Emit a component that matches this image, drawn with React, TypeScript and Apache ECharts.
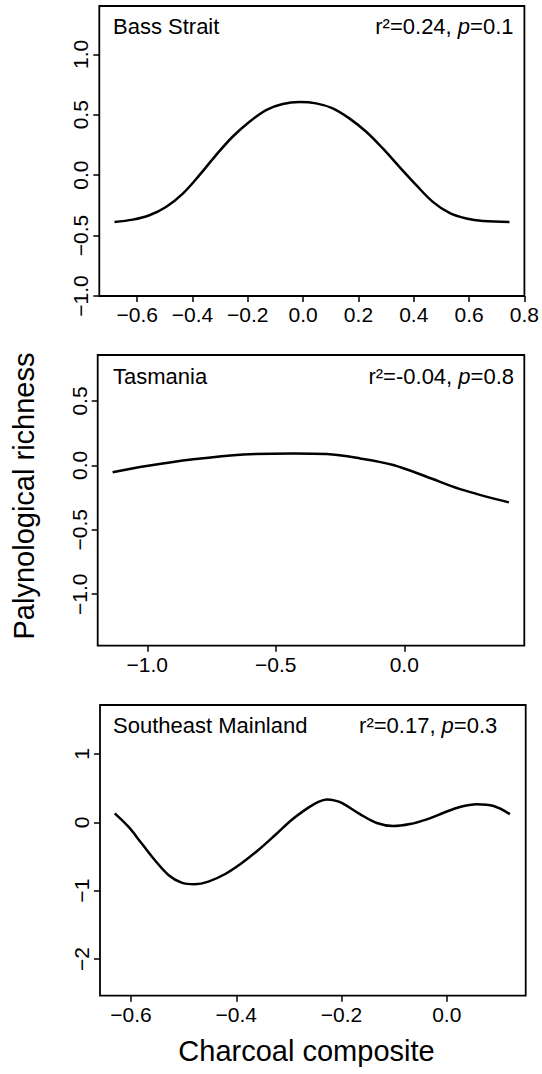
import React, { useEffect, useRef } from "react";
import * as echarts from "echarts";

// Panel 1: Bass Strait
const bassX = [-0.682, -0.616, -0.556, -0.496, -0.435, -0.375, -0.315, -0.255, -0.194, -0.134, -0.074, -0.013, 0.047, 0.107, 0.167, 0.228, 0.288, 0.348, 0.409, 0.469, 0.529, 0.59, 0.65, 0.746];
const bassY = [-0.387, -0.368, -0.332, -0.263, -0.152, 0.0, 0.166, 0.318, 0.442, 0.539, 0.589, 0.605, 0.594, 0.553, 0.47, 0.359, 0.221, 0.069, -0.083, -0.221, -0.313, -0.359, -0.38, -0.387];

// Panel 2: Tasmania
const tasX = [-1.135, -1.003, -0.821, -0.626, -0.432, -0.302, -0.172, -0.043, 0.087, 0.217, 0.407];
const tasY = [-0.054, -0.005, 0.047, 0.085, 0.093, 0.088, 0.054, 0.003, -0.088, -0.184, -0.287];

// Panel 3: Southeast Mainland
const semX = [-0.631, -0.605, -0.58, -0.555, -0.529, -0.504, -0.479, -0.453, -0.421, -0.39, -0.358, -0.326, -0.295, -0.263, -0.244, -0.228, -0.212, -0.197, -0.165, -0.133, -0.102, -0.07, -0.038, -0.006, 0.025, 0.057, 0.089, 0.12];
const semY = [0.132, -0.064, -0.307, -0.551, -0.77, -0.883, -0.906, -0.868, -0.756, -0.599, -0.405, -0.186, 0.034, 0.215, 0.3, 0.335, 0.318, 0.275, 0.12, -0.01, -0.054, -0.025, 0.044, 0.14, 0.225, 0.265, 0.24, 0.121];

const panelNames = ["Bass Strait", "Tasmania", "Southeast Mainland"];
const statR2 = ["r²=0.24, ", "r²=-0.04, ", "r²=0.17, "];
const statP = ["=0.1", "=0.8", "=0.3"];

const xTicks1 = [-0.6, -0.4, -0.2, 0.0, 0.2, 0.4, 0.6, 0.8];
const yTicks1 = [-1.0, -0.5, 0.0, 0.5, 1.0];
const xTicks2 = [-1.0, -0.5, 0.0];
const yTicks2 = [-1.0, -0.5, 0.0, 0.5];
const xTicks3 = [-0.6, -0.4, -0.2, 0.0];
const yTicks3 = [-2, -1, 0, 1];

const xRanges = [[-0.737, 0.8], [-1.193, 0.467], [-0.659, 0.15]];
const yRanges = [[-1.0, 1.4], [-1.4, 0.857], [-2.537, 1.717]];

const FONT = "'Liberation Sans', Arial, Helvetica, sans-serif";

const fmt = (d: number) => (v: number) => {
  const s = Math.abs(v).toFixed(d);
  return (v < -1e-9 ? "\u2212" : "") + s;
};

export default function App() {
  const ref = useRef<HTMLDivElement>(null);
  useEffect(() => {
    if (!ref.current) return;
    const chart = echarts.init(ref.current, null, { renderer: "svg" });
    const grids = [
      { left: 99.3, top: 6, width: 426, height: 290 },
      { left: 97.7, top: 355, width: 426.6, height: 290.7 },
      { left: 100, top: 705, width: 425.7, height: 290.7 },
    ];
    const xt = [xTicks1, xTicks2, xTicks3];
    const yt = [yTicks1, yTicks2, yTicks3];
    const yDec = [1, 1, 0];
    const xs = [bassX, tasX, semX];
    const ys = [bassY, tasY, semY];
    const tickStyle = { color: "#000", width: 1.5 };
    const option: any = {
      animation: false,
      backgroundColor: "#fff",
      grid: grids.map((g) => ({ ...g, show: true, borderColor: "#000", borderWidth: 1.8, backgroundColor: "transparent" })),
      xAxis: grids.map((_, i) => ({
        type: "value",
        gridIndex: i,
        position: "bottom",
        min: xRanges[i][0],
        max: xRanges[i][1],
        axisLine: { show: false, onZero: false },
        splitLine: { show: false },
        axisTick: { show: true, length: 6, lineStyle: tickStyle, customValues: xt[i] },
        axisLabel: {
          show: true,
          customValues: xt[i],
          formatter: fmt(1),
          color: "#000",
          fontSize: 21,
          fontFamily: FONT,
          margin: 8,
          showMinLabel: true,
          showMaxLabel: true,
        },
      })),
      yAxis: grids.map((_, i) => ({
        type: "value",
        gridIndex: i,
        position: "left",
        min: yRanges[i][0],
        max: yRanges[i][1],
        axisLine: { show: false, onZero: false },
        splitLine: { show: false },
        axisTick: { show: true, length: 6, lineStyle: tickStyle, customValues: yt[i] },
        axisLabel: {
          show: true,
          customValues: yt[i],
          formatter: fmt(yDec[i]),
          rotate: 90,
          color: "#000",
          fontSize: 21,
          fontFamily: FONT,
          margin: 8,
          showMinLabel: true,
          showMaxLabel: true,
        },
      })),
      series: grids.map((_, i) => ({
        type: "line",
        xAxisIndex: i,
        yAxisIndex: i,
        data: xs[i].map((x, k) => [x, ys[i][k]]),
        symbol: "none",
        smooth: 0.35,
        lineStyle: { color: "#000", width: 2.5 },
      })),
      graphic: [
        ...panelNames.map((n, i) => ({
          type: "text",
          left: 113,
          top: [27.3, 377.3, 726.7][i] - 12,
          style: { text: n, fontSize: 22, fontFamily: FONT, fill: "#000" },
        })),
        ...statR2.map((s, i) => ({
          type: "text",
          right: [542 - 513.5, 542 - 514, 542 - 497.3][i],
          top: [27.3, 377.3, 726.7][i] - 12,
          style: {
            text: `{a|${s}}{b|p}{a|${statP[i]}}`,
            rich: {
              a: { fontSize: 22, fontFamily: FONT, fill: "#000" },
              b: { fontSize: 22, fontFamily: FONT, fontStyle: "italic", fill: "#000" },
            },
          },
        })),
        {
          type: "text",
          x: 24,
          y: 496,
          rotation: Math.PI / 2,
          style: {
            text: "Palynological richness",
            fontSize: 29,
            fontFamily: FONT,
            fill: "#000",
            align: "center",
            verticalAlign: "middle",
          },
        },
        {
          type: "text",
          x: 306.5,
          y: 1051,
          style: {
            text: "Charcoal composite",
            fontSize: 29,
            fontFamily: FONT,
            fill: "#000",
            align: "center",
            verticalAlign: "middle",
          },
        },
      ],
    };
    chart.setOption(option);
    return () => chart.dispose();
  }, []);
  return (
    <div
      ref={ref}
      style={{ position: "absolute", left: 0, top: 0, width: 542, height: 1074, background: "#fff" }}
    />
  );
}
